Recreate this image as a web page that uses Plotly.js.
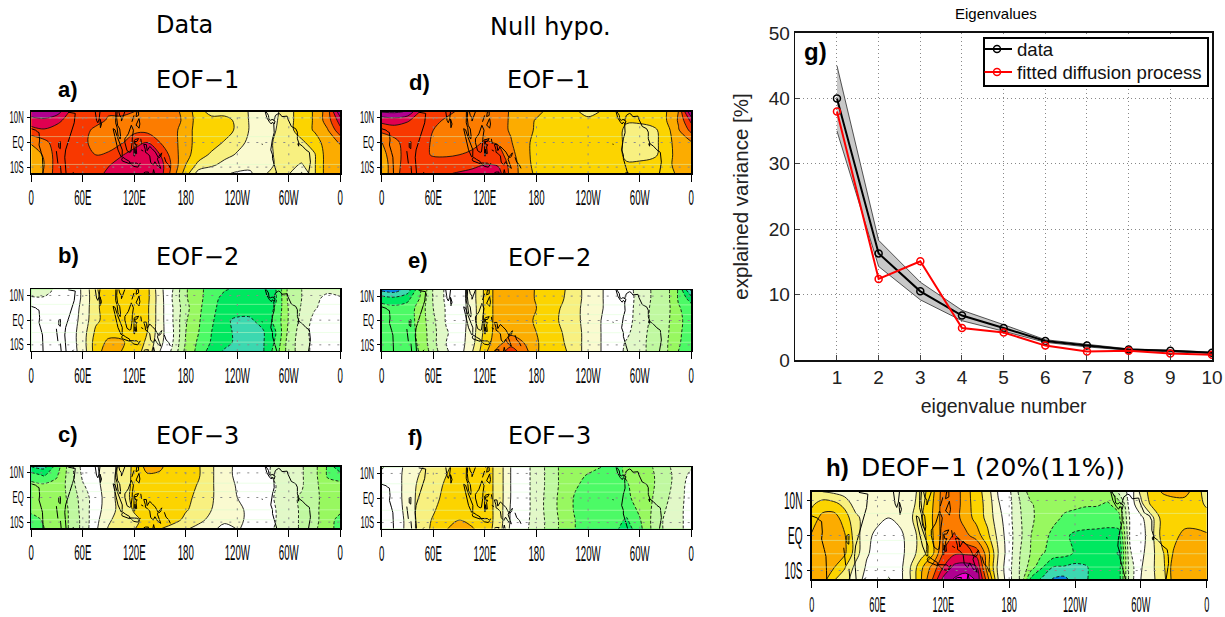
<!DOCTYPE html>
<html><head><meta charset="utf-8">
<script src="https://cdn.plot.ly/plotly-3.0.1.min.js"></script>
<style>html,body{margin:0;padding:0;background:#fff}</style></head>
<body><div id="chart" style="width:1225px;height:617px"></div>
<script>
// ---------- grid coordinates ----------
const lats = [12.5, 9, 5, 0, -5, -9, -12.5];
const lon15 = [0,15,30,45,60,75,90,105,120,135,150,165,180,195,210,225,240,255,270,285,300,315,330,345,360];
const lon10 = [0,10,20,30,40,50,60,70,80,90,100,110,120,130,140,150,160,170,180,190,200,210,220,230,240,250,260,270,280,290,300,310,320,330,340,350,360];

// ---------- map fields (rows north to south, in colour-band units) ----------
const eofA = [
[8.3,8.5,8,6.4,6,6,5.6,5.6,5.5,5.2,5,5,4,3,2,2,2,1.4,1.2,1.3,2.2,3,3.6,5,8.3],
[7,7.2,6.7,6.2,6,5.8,5.4,5.4,5.5,5.2,5,5,4.2,3,3,3,2.2,1.4,1.2,1.4,2.2,3,3.6,5,7],
[6.2,6.4,6.2,6.1,5.8,5.3,5.3,5.3,5.3,5.2,5,4.8,4,3,3,3,2.3,1.4,1.2,1.5,2.2,3,3.6,4.4,6.2],
[4.6,5.2,6,6,5.7,5.2,5.2,5.4,6,6.5,5.5,4.8,4,3,3,2.4,1.8,1.3,1.2,1.6,2,2.3,3,4,4.6],
[4,4.6,6,6.2,5.8,5.5,5.6,6.4,7,7.4,6.5,5,3.8,3,2.3,1.8,1.4,1.1,1.1,1.6,2,2,2.4,4,4],
[3.8,4.5,6,6.1,5.8,5.8,6.4,7,7.2,7.4,7,5.2,3.5,2.2,1.7,1.2,.9,.7,1,1.6,1.8,1.4,2.4,4,3.8],
[3.8,4.6,6,6,6,6,6.8,7.2,7.2,7.2,7,5,3,1,.8,.6,.4,.4,1,2.6,1.6,.4,2.4,4,3.8]];
const eofB = [
[-1,-1,-.3,0,.6,2.4,3,3,3,2.8,.8,-.5,-2.4,-3.2,-4,-4.4,-4.7,-4.8,-4.8,-4.5,-2.2,-1.5,-.8,-.8,-1],
[-.4,-.4,-.2,0,.6,2.3,3,3,3,2.8,.9,-.6,-2.4,-3.2,-4.1,-4.8,-4.8,-4.9,-4.9,-4.6,-2.2,-1.5,-.8,-.2,-.4],
[-.1,-.1,-.1,0,.7,2.3,3,3,3,2.7,.9,-.5,-2.2,-3.3,-4.2,-5,-5.2,-5.2,-5,-4.4,-2.4,-1.4,-.6,-.1,-.1],
[-.1,0,0,0,.8,2.3,2.9,3,3,2.7,.9,-.5,-2.4,-3.4,-4.3,-5.4,-5.6,-5.6,-5.2,-4.2,-2.4,-1.2,-.2,0,-.1],
[0,0,0,0,1,2.7,3.2,3.3,3.2,2.5,.9,-.4,-2.5,-3.5,-4.5,-5.2,-5.7,-5.8,-5.6,-4.5,-2.2,-1,-.1,0,0],
[0,0,0,0,1,3,3.7,3.6,3.2,2.3,.8,-.5,-2.6,-3.7,-4.6,-5.2,-5.7,-5.7,-5.6,-4.3,-2,-1,-.2,0,0],
[0,0,0,0,.9,3,4.1,3.5,3,2.1,.5,-.7,-2.8,-3.8,-5,-5.6,-5.8,-5.8,-5.6,-4,-2,-1,-.2,-.1,0]];
const eofC = [
[-5.5,-5.8,-4,-2,-.1,.3,1.3,1.6,2.8,3.8,3.6,3.2,3.1,2.6,1.6,1,.2,-.1,-.1,-.8,-1,-1.4,-2.2,-3.6,-5.5],
[-4,-4.6,-3.6,-2,-.3,.2,1.3,1.7,2.8,3.4,3.4,3.2,3.1,2.6,1.6,1,.2,-.1,-.1,-.8,-1.1,-1.4,-2.2,-3.6,-4],
[-3.2,-3.3,-3.2,-2.1,-.6,.1,1.2,1.8,2.8,3.1,3.2,3.2,3,2.4,1.6,1,.4,0,0,-.5,-1.2,-1.4,-2.2,-3.2,-3.2],
[-3.1,-3.1,-3,-2.3,-1,0,1,2,2.8,3,3.2,3.2,2.8,2.2,1.6,1,.5,.1,0,-.6,-1.3,-1.6,-2.2,-3,-3.1],
[-3.3,-3.2,-3.1,-2.4,-1.1,.1,1,1.9,2.6,3,3.2,3.1,2.6,2.1,1.5,1.1,.8,.2,0,-.5,-1.2,-1.6,-2.2,-3.1,-3.3],
[-3.8,-3.4,-3.2,-2.4,-1.2,.2,1.3,2.1,2.3,2.8,3,3,2.2,1.7,1.3,1,.8,.2,0,-.5,-1.2,-1.6,-2.2,-3.1,-3.8],
[-3.8,-3.5,-3.2,-2.4,-1.2,.3,1.6,2.2,2.4,3.4,2.6,2,1.6,1.3,1,-.1,.6,.2,0,-.6,-1.2,-1.6,-2.3,-3.2,-3.8]];
const eofD = [
[8.6,8.7,8.4,6.4,6,5.7,5.4,5.4,5.2,5,4.4,4,3.8,3.2,3,2.8,1.8,2.6,2.9,2.9,3,3,3.4,4.5,8.6],
[6.8,7,6.6,6.1,5.7,5.4,5.3,5.3,5.2,4.9,4.4,4,3.4,3,3,3,3,3,2.9,2.6,2.7,3,3.4,4.6,6.8],
[5.8,6,6,6,5.5,5.2,5.2,5.2,5.2,4.9,4.4,3.8,3.4,3,3,3,3,3,2.9,2.3,2.1,2.2,3,4.4,5.8],
[4.4,5.2,6,5.8,5.4,5.2,5.2,5.2,5.6,5.4,4.6,3.7,3.3,3,3,3,3,3,2.9,2.3,2.1,2.1,3,4,4.4],
[4.2,5,6,5.8,5.4,5.4,5.5,5.7,6.2,6,4.9,3.8,3.2,3,3,3,3,3,2.9,2.3,2,2.2,3,3.9,4.2],
[4,5,6.1,6,6,5.9,6,6.2,6.5,6.4,5.2,3.9,3.2,3,3,3,3,3,2.9,2.6,2.8,3,3.2,3.8,4],
[4,5,6.3,6.4,6.4,6.4,6.6,6.8,7.2,7,5.2,4,3.3,3,3,3,3,3,2.9,3.6,3,3,3,3.7,4]];
const eofE = [
[-6.7,-7,-6,-3.6,-1.4,-.3,0,1,2.7,4,4,4,3.4,3,2.7,1.8,1.2,.6,0,-.1,-.9,-1.6,-2,-3.6,-6.7],
[-5,-5.2,-4.8,-3.4,-1.4,-.3,0,1,2.7,4,4,4,3.4,3,2.6,1.8,1.2,.6,0,0,-.9,-1.6,-2,-3.6,-5],
[-4,-4.2,-4,-3.1,-1.5,-.4,0,.9,2.7,4,4,4,3.5,3,2.4,1.7,1.2,.6,0,-.1,-.9,-1.7,-2,-3.4,-4],
[-3.7,-4,-4,-3.1,-1.7,-.4,0,.9,2.7,4,4,4,3.3,3,2.3,1.7,1.2,.5,0,-.1,-1,-1.7,-2.1,-3.4,-3.7],
[-3.8,-4,-4,-3.2,-1.8,-.6,0,1,2.8,4,4.3,4.2,3.5,3,2.5,1.9,1.1,.5,0,-.3,-1.1,-1.8,-2.2,-3.4,-3.8],
[-4,-4,-4,-3.3,-1.8,-.5,0,1.1,3,4.1,5,4.5,3.6,3,2.6,1.9,1.1,.5,0,-.6,-1.2,-1.8,-2.3,-3.4,-4],
[-4.2,-4.2,-4.1,-3.4,-2,-.6,0,1.4,3.2,4.8,6,5,3.6,3,2.8,1.9,1.1,.5,0,-.7,-1.2,-1.8,-2.3,-3.5,-4.2]];
const eofF = [
[-.6,0,.8,1.4,1.9,2.3,3,3,3,2.2,.5,0,-1,-1.8,-2.8,-3,-3.2,-3.5,-3.7,-3.4,-2.9,-2.5,-1.8,-1,-.6],
[-.2,0,.9,1.6,2,2.5,3,3,3,2.2,.5,0,-1,-1.8,-2.8,-3.2,-3.6,-3.7,-3.8,-3.4,-3,-2.6,-1.9,-1.1,-.2],
[0,0,.9,1.8,2,2.7,3,3,3,2.2,.5,0,-1,-1.8,-2.8,-3.4,-3.8,-3.9,-3.9,-3.6,-3,-2.6,-1.9,-1,0],
[0,0,.9,1.9,2.2,2.8,3,3,3,2.2,.5,0,-1,-1.9,-2.9,-3.6,-3.9,-3.9,-4,-3.7,-3.1,-2.5,-1.7,-.9,0],
[0,0,.8,2,2.4,3,3,3,3,2.2,.4,0,-1,-1.9,-2.9,-3.6,-3.9,-3.9,-4,-4.2,-3.3,-2.4,-1.5,-.8,0],
[0,0,.7,2,2.6,3.2,3.5,3.2,3,2.2,.4,-.1,-1,-1.8,-2.8,-3.5,-3.8,-3.9,-4.2,-4.6,-3.6,-2.3,-1.3,-.8,0],
[0,0,.7,2,2.7,3.4,4.2,3.6,3,2.1,.3,-.2,-1,-1.8,-2.8,-3.5,-3.8,-3.9,-4.2,-5,-3.8,-2.3,-1.3,-.8,0]];
const deofH = [
[2,1.5,1.3,1,.8,.7,.7,.7,.8,.9,2,3.2,5,5.2,3.9,3,2,.4,-.3,-1.8,-3,-3,-3.4,-3.2,-3,-3,-3,-3,-1.2,-.2,1.8,3,3.6,3.9,3.9,3,2],
[2.3,3,2.8,2.2,1,.7,.6,.7,.8,1,2.2,3.4,5,5.1,4,3,2.2,.6,-.2,-1.5,-2.4,-3,-3.2,-3.3,-3.3,-3.4,-3.4,-3.6,-3,0,1.2,2.8,3,3,3,3,2.3],
[3,3.8,4,3,1.8,1,.7,.5,.8,1.3,2.4,3.5,5,5,4,3.2,2.2,.9,-.2,-1.4,-2.3,-3,-3.3,-3.6,-3.8,-3.9,-4,-4,-3.8,-.4,.3,1.2,3,3,3,3,3],
[3.6,4,4,3.6,2,.7,.3,0,.2,1,1.9,3.4,5,5.6,4.8,4,2.8,1.2,-.1,-1.3,-2.5,-3.2,-3.7,-4.3,-4.7,-4.8,-4.8,-4.9,-4.9,-.4,0,1.2,3,3.2,3.8,3.8,3.6],
[4,4,4,3.7,2,.6,.2,0,.1,1,2,3.2,5.6,6.3,6.3,6.1,4,1.5,-.1,-1.5,-2.6,-3.4,-3.9,-4.1,-4.6,-4.8,-4.9,-5,-5.6,-.6,.2,1.2,2.4,3.6,4,4,4],
[4,4,3.6,2.6,1.2,.4,.1,0,.1,1.5,3.3,4.8,6.5,7.8,8,7.6,4,1.2,-.2,-1.6,-3,-4.4,-5.5,-5.6,-5.8,-5.6,-5,-5,-5,-1,.4,1.3,2.2,4,4,4,4],
[4,4,2.6,2,.8,.3,0,-.6,.1,1.5,3.5,5.5,7.8,8.6,9,8.4,5,1.5,-.2,-1.6,-4.8,-5.7,-6.6,-6.8,-6,-5.6,-5,-5,-5,-1,.5,1.3,2,4,4,4,4]];

// ---------- colour bands, -7 .. 9 ----------
const bandColors = ['#0a82e8','#3cd8b0','#00e860','#4cfa66','#98f860','#c0f8a0','#e2f8c8','#ffffff',
 '#fafad0','#f8f080','#fcd400','#fcac00','#fc7c00','#f83800','#e00050','#b00090','#f000d0'];

// ---------- coastlines ----------
const coastLon = [0,5,7,9,9.7,9,11.5,13,13.5,13.7,null, 43,51.2,50,47,43.5,40,39,39.5,40.5,null,
 32,34,33.8,32,32,null, 29.2,30,31,null, 34,34.8,null, 49.3,48,null,
 74.5,76,77.5,79,80,null, 80,81.8,80.5,79.8,80,null,
 98.5,98.3,100,101,103.5,104,103,100.5,99.5,100,null, 109,107,105,105,103,102,null,
 95.3,97.5,100.5,103.5,106,105.8,104.5,101,98.8,96.5,95.3,null,
 105.3,106.8,110,114.5,114.5,110,106,105.3,null,
 109,111.3,113,116.5,119,117.7,117.5,116,114.5,111.5,110,109,109,null,
 119.8,121,125,123,120.3,121.5,123.3,122,122.8,121.5,120.8,120.4,119.5,119.5,119.8,null,
 115,119,123,125,127,124,119.5,115,null, 117.2,119.7,null,
 122,123.5,125.5,126.5,125.5,124,122,null, 122,125,125,123,122,null, 120.5,121.5,null,
 127.5,128.5,null, 128,130.5,null,
 131,134,135,138,141,144.5,147.8,147,150.8,147,144,142,139,138,135,133,132.8,131,null,
 148.5,152,151,149,148.5,null, 155,157,160,162,null,
 131,133,136.5,136,null, 142.5,143.5,null, 141.7,142.5,null,
 272.5,274.5,277.5,279.7,281,283,284,282.5,280.5,279,277,276.3,273.5,null,
 282.5,284.5,288,290,292,298,299,303,308,310,310,312,316,320,324,325,325.2,323,null,
 282.5,283,281,279.5,279,281,281,283,285,286,null,
 310.5,311.5,311.5,310.5,310.5,null, 268.8,269.2,null];
const coastLat = [5.6,5,4.4,4,1,-1,-4,-6,-10,-12.5,null, 12.3,11.8,8,4.5,1,-3,-6,-9,-12.5,null,
 0,.3,-2.5,-2,0,null, -3.5,-6,-8.5,null, -9.5,-12.5,null, -12,-12.5,null,
 12.5,9,8,9.5,12.5,null, 9.5,7.5,6,8,9.5,null,
 12.5,8,6,3,1.4,2.5,5.5,7,10,12.5,null, 12.5,10.5,8.7,10,11,12.5,null,
 5.6,5.2,2,-1,-3,-5.8,-5.8,-3,0,3,5.6,null,
 -6.8,-6,-6.8,-7.7,-8.6,-8,-7.5,-6.8,null,
 1.5,2.6,3.5,7,5,2,0,-3.8,-4,-3.3,-1.5,0,1.5,null,
 .8,1.2,1.6,.4,.4,-1,-.9,-1.8,-4.5,-4.5,-2.7,-5.5,-5.4,-3.3,.8,null,
 -8.3,-8.4,-8.4,-9,-8.5,-10,-9.7,-8.3,null, 8.4,11,null,
 7,8.5,9.8,7.5,5.8,6.5,7,null, 10.5,11,12.5,12.5,10.5,null, 12.5,12.5,null,
 1.5,-.5,null, -3,-3.5,null,
 -.8,-.8,-3.3,-1.6,-2.6,-3.9,-6,-6.8,-10.5,-9.5,-7.8,-9.2,-8,-5.5,-4.4,-4,-2.8,-.8,null,
 -5.6,-4.2,-5.5,-6.2,-5.6,null, -6,-8,-9,-10.5,null,
 -12.3,-12,-12,-12.5,null, -11,-12.5,null, -12.5,-11,null,
 12.5,10,8.3,7.5,8.3,7.5,8.7,9,9.4,9,9.3,11,12.5,null,
 9,11,11.8,11.5,10.5,10.7,9.5,6.5,5.6,4.2,1.5,-.5,-1.5,-3,-4,-6,-8,-12.5,null,
 7.5,4,1.5,-1,-3,-5,-6.5,-9,-12,-12.5,null,
 -.5,-.3,-1.5,-1,-.5,null, -.5,-.9,null];

// ---------- axis labels ----------
const lonTicks = [0,60,120,180,240,300,360];
const lonLabels = ['0','60E','120E','180','120W','60W','0'];
const latTicks = [10,0,-10];
const latLabels = ['10N','EQ','10S'];
const stripesA = [10,2.4,-8.9];
const stripesB = [6.4,2.4,-1.2,-5,-8.9];
const stripesC = [5.8,2.4,-5,-9];
const stripesH = [6.3,-1.4,-5.2,-9];

// ---------- eigenvalues ----------
const eigNumber = [1,2,3,4,5,6,7,8,9,10];
const eigData = [40,16.3,10.5,6.8,4.9,2.9,2.2,1.6,1.4,1.1];
const eigUpper = [45,18.3,11.9,7.6,5.4,3.1,2.4,1.7,1.5,1.2];
const eigLower = [35,14.3,9.2,6,4.4,2.7,2,1.5,1.3,1];
const eigFitted = [38,12.4,15.1,4.9,4.2,2.2,1.3,1.4,1,.8];

// ---------- layout helpers ----------
const W = 1225, H = 617;
const panels = [
 {z:eofA, lon:lon15, box:[31.3,340.3,111.7,173.3], st:stripesA, xf:22, yf:16, xr:.44, yr:.48},
 {z:eofB, lon:lon15, box:[31.3,340.3,289.3,351],   st:stripesB, xf:22, yf:16, xr:.44, yr:.48},
 {z:eofC, lon:lon15, box:[31.3,340.3,466.7,528.3], st:stripesC, xf:22, yf:16, xr:.44, yr:.48},
 {z:eofD, lon:lon15, box:[381.7,691.3,111.7,173.3],st:stripesA, xf:22, yf:16, xr:.44, yr:.48},
 {z:eofE, lon:lon15, box:[381.7,691.3,290,351],    st:stripesB, xf:22, yf:16, xr:.44, yr:.48},
 {z:eofF, lon:lon15, box:[381.7,691.3,467.3,528.7],st:stripesC, xf:22, yf:16, xr:.44, yr:.48},
 {z:deofH,lon:lon10, box:[811.7,1206.7,491.7,579.3],st:stripesH,xf:22, yf:24, xr:.42, yr:.42}
];
const colorscale = bandColors.map((c,i)=>[i/(bandColors.length-1),c]);
const traces = [], layout = {
  width:W, height:H, margin:{l:0,r:0,t:0,b:0}, paper_bgcolor:'#fff', plot_bgcolor:'#fff',
  font:{family:'Liberation Sans, sans-serif', color:'#000'}, shapes:[], annotations:[],
  legend:{x:983/W, y:1-37/H, xanchor:'left', yanchor:'top', bgcolor:'#fff', bordercolor:'#000', borderwidth:1.5,
          font:{size:18.6,family:'Liberation Sans',color:'#111'}, itemwidth:30, tracegroupgap:0}
};
panels.forEach((p,i)=>{
  const n = i+1, xa='x'+n, ya='y'+n, xk='xaxis'+n, yk='yaxis'+n;
  const z = p.z.slice().reverse(), y = lats.slice().reverse();
  const base = {type:'contour',x:p.lon,y:y,z:z,xaxis:xa,yaxis:ya,showscale:false,showlegend:false,autocontour:false,hoverinfo:'skip'};
  traces.push(Object.assign({},base,{contours:{start:-6.5,end:8.5,size:1,coloring:'fill',showlines:false},line:{width:0},colorscale:colorscale}));
  traces.push(Object.assign({},base,{contours:{start:.5,end:8.5,size:1,coloring:'none'},line:{color:'#111',width:.9,smoothing:1,dash:'solid'}}));
  traces.push(Object.assign({},base,{contours:{start:-6.5,end:-.5,size:1,coloring:'none'},line:{color:'#111',width:.9,smoothing:1,dash:'3px,2px'}}));
  traces.push({type:'scatter',mode:'lines',x:coastLon,y:coastLat,xaxis:xa,yaxis:ya,showlegend:false,hoverinfo:'skip',
    line:{color:'#000',width:1},connectgaps:false});
  layout[xk]={domain:[p.box[0]/W,p.box[1]/W],range:[0,360],anchor:ya,tickmode:'array',tickvals:lonTicks,ticktext:lonLabels,tickangle:0,
    ticks:'outside',ticklen:7,tickcolor:'#000',showline:true,linecolor:'#000',linewidth:1.4,mirror:true,showgrid:false,zeroline:false,
    ticklabelstandoff:i===6?-2:-3,
    tickfont:{family:'Liberation Sans',size:p.xf,color:'#000'}};
  layout[yk]={domain:[1-p.box[3]/H,1-p.box[2]/H],range:[-12.5,12.5],anchor:xa,tickmode:'array',tickvals:latTicks,ticktext:latLabels,tickangle:0,
    ticks:'outside',ticklen:3,tickcolor:'#000',showline:true,linecolor:'#000',linewidth:1.4,mirror:true,showgrid:false,zeroline:false,
    tickfont:{family:'Liberation Sans',size:p.yf,color:'#000'}};
  p.st.forEach(v=>layout.shapes.push({type:'line',xref:xa,yref:ya,x0:0,x1:360,y0:v,y1:v,layer:'above',
    line:{color:'rgba(215,255,205,0.45)',width:1}}));
  latTicks.forEach(v=>layout.shapes.push({type:'line',xref:xa,yref:ya,x0:0,x1:360,y0:v,y1:v,layer:'above',
    line:{color:'#8a8a8a',width:1,dash:'2px,7px'}}));
  lonTicks.slice(1,-1).forEach(v=>layout.shapes.push({type:'line',xref:xa,yref:ya,x0:v,x1:v,y0:-12.5,y1:12.5,layer:'above',
    line:{color:'#8a8a8a',width:1,dash:'2px,7px'}}));
});

// eigenvalue panel
const gx='x8', gy='y8';
traces.push({type:'scatter',mode:'lines',x:eigNumber.concat(eigNumber.slice().reverse()),y:eigUpper.concat(eigLower.slice().reverse()),
  xaxis:gx,yaxis:gy,fill:'toself',fillcolor:'#c8c8c8',line:{color:'#111',width:.7},showlegend:false,hoverinfo:'skip'});
traces.push({type:'scatter',mode:'lines+markers',name:'data',x:eigNumber,y:eigData,xaxis:gx,yaxis:gy,
  line:{color:'#000',width:2},marker:{symbol:'circle-open',size:7,color:'#000',line:{width:1.5,color:'#000'}}});
traces.push({type:'scatter',mode:'lines+markers',name:'fitted diffusion process',x:eigNumber,y:eigFitted,xaxis:gx,yaxis:gy,
  line:{color:'#f00',width:2},marker:{symbol:'circle-open',size:7,color:'#f00',line:{width:1.5,color:'#f00'}}});
layout.xaxis8={domain:[795.3/W,1212/W],range:[0,10],anchor:gy,tickmode:'array',tickvals:eigNumber,ticks:'inside',ticklen:5,
  showline:true,linecolor:'#111',linewidth:1.6,mirror:true,showgrid:true,griddash:'1px,3px',gridcolor:'#888',gridwidth:1,zeroline:false,
  tickfont:{size:19,color:'#222',family:'Liberation Sans'},
  title:{text:'eigenvalue number',font:{size:19.5,color:'#222',family:'Liberation Sans'},standoff:12}};
layout.yaxis8={domain:[1-360/H,1-33/H],range:[0,50],anchor:gx,tickmode:'array',tickvals:[0,10,20,30,40,50],ticks:'inside',ticklen:5,
  showline:true,linecolor:'#111',linewidth:1.6,mirror:true,showgrid:true,griddash:'1px,3px',gridcolor:'#888',gridwidth:1,zeroline:false,
  tickfont:{size:19,color:'#222',family:'Liberation Sans'},
  title:{text:'explained variance [%]',font:{size:20.5,color:'#222',family:'Liberation Sans'},standoff:14}};

// text labels
function label(text,x,y,size,family,bold){
  layout.annotations.push({xref:'paper',yref:'paper',x:x/W,y:1-y/H,xanchor:'center',yanchor:'middle',showarrow:false,
    text:bold?'<b>'+text+'</b>':text,font:{size:size,family:family,color:'#000'}});
}
const head='DejaVu Sans', tag='Liberation Sans';
label('Data',184,25,24,head); label('Null hypo.',550,27,24,head);
[['EOF−1',197,80],['EOF−2',197,257],['EOF−3',197,436],['EOF−1',548,80],['EOF−2',549,258],['EOF−3',549,436]]
  .forEach(t=>label(t[0],t[1],t[2],24,head));
[['a)',68,90],['b)',68,255],['c)',68,434],['d)',419,83],['e)',418,260],['f)',415,437]]
  .forEach(t=>label(t[0],t[1],t[2],22,tag,true));
label('g)',815,52,24,tag,true);
label('h)',837,467,24,tag,true);
label('DEOF−1 (20%(11%))',993,467,25,head);
label('Eigenvalues',996,13,15,tag);

// the map tick labels are tall and condensed: squeeze the real text horizontally
function squeeze(gd){
  panels.forEach((p,i)=>{
    const n = i===0 ? '' : i+1;
    [['x',p.xr],['y',p.yr]].forEach(a=>{
      gd.querySelectorAll('.'+a[0]+n+'tick text').forEach(t=>{
        t.setAttribute('textLength',(t.getComputedTextLength()*a[1]).toFixed(1));
        t.setAttribute('lengthAdjust','spacingAndGlyphs');
      });
    });
  });
  // tighten the legend to the reference's row height
  const rows = gd.querySelectorAll('.legend .traces');
  rows.forEach((r,i)=>r.setAttribute('transform','translate(-6,'+(12+i*23)+')'));
  const bg = gd.querySelector('.legend .bg');
  if(bg) bg.setAttribute('height','48');
  if(bg) bg.setAttribute('width','224');
}
Plotly.newPlot('chart',traces,layout,{displayModeBar:false,staticPlot:true}).then(squeeze);
</script></body></html>
